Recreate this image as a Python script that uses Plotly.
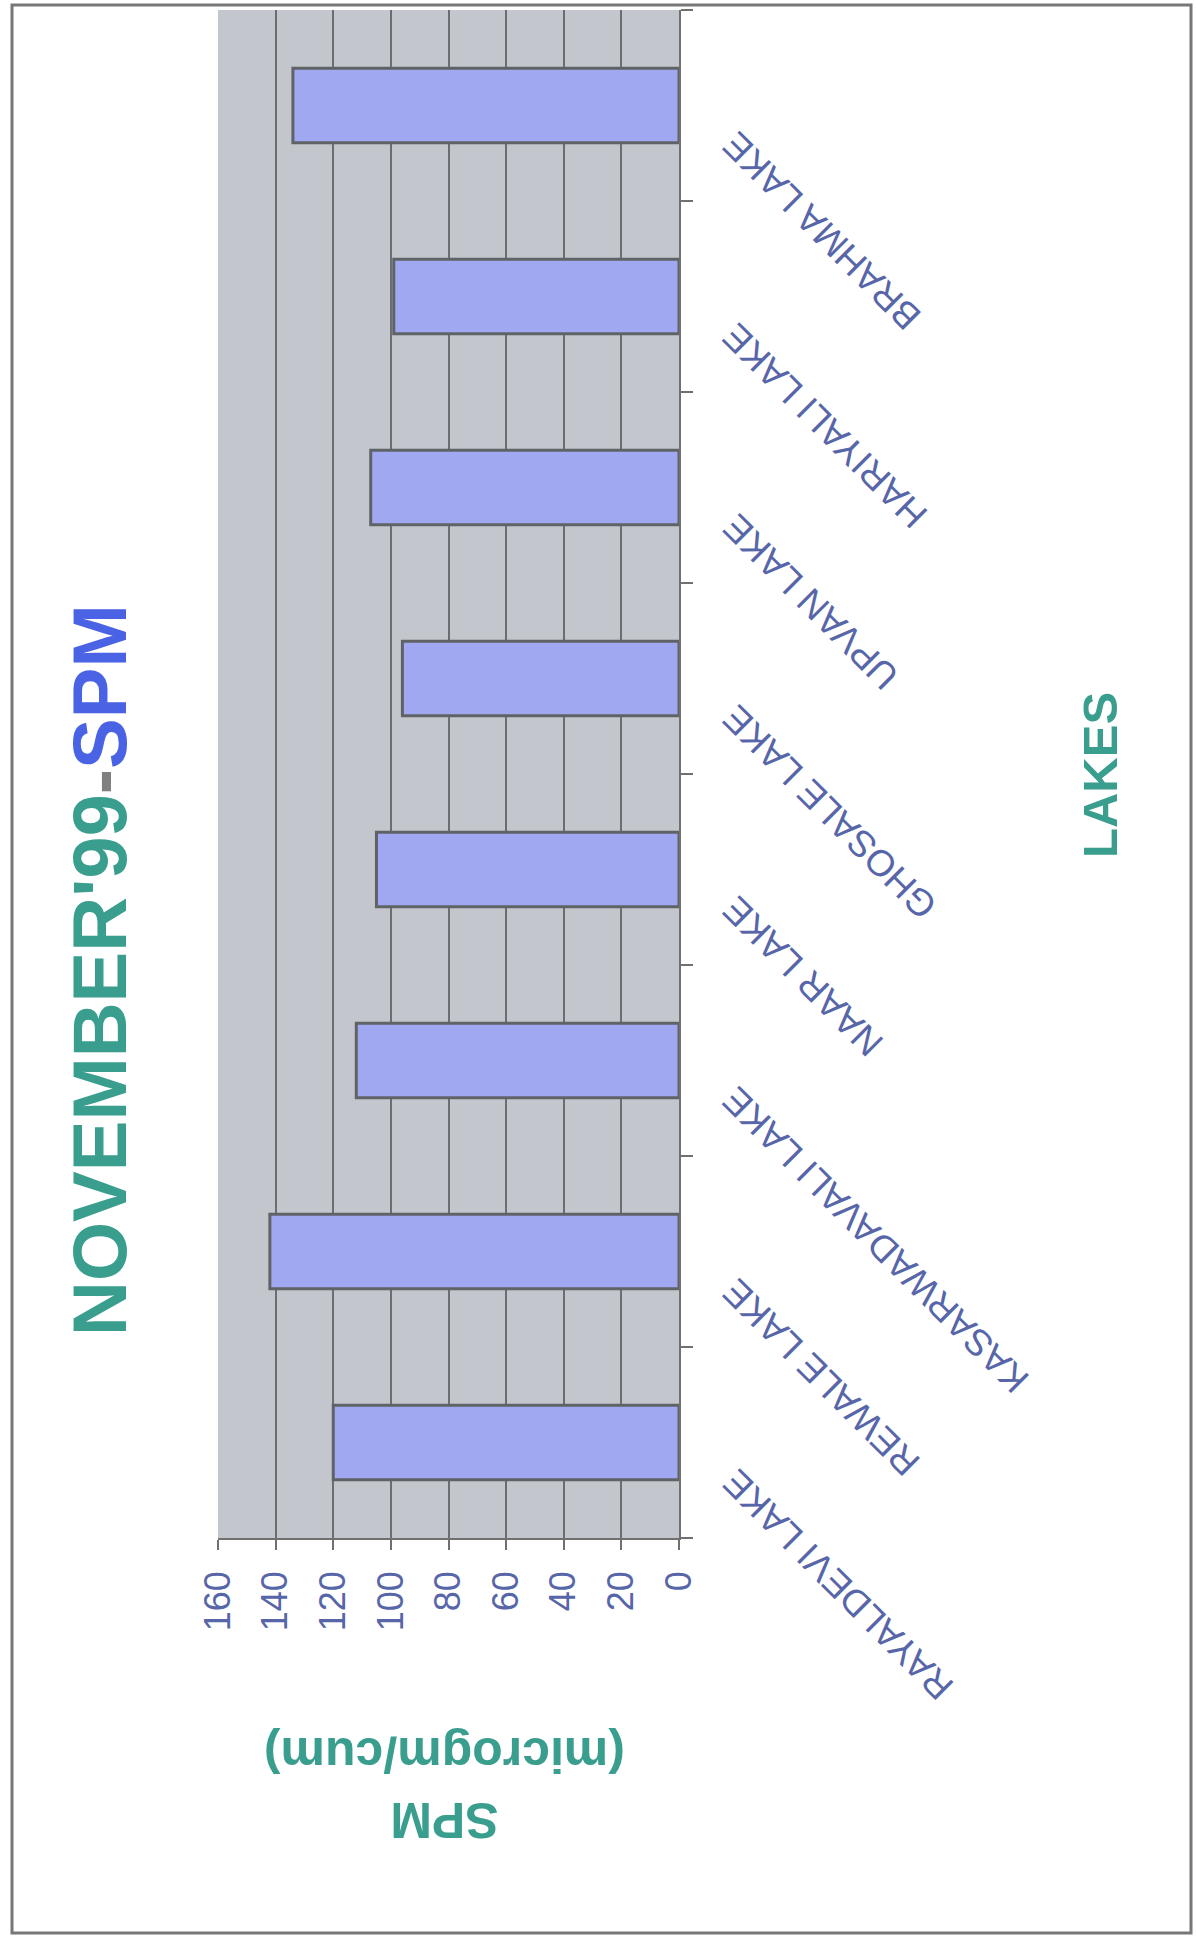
import plotly.graph_objects as go

lakes = ["RAYALDEVI LAKE", "REWALE LAKE", "KASARWADAVALI LAKE", "NAAR LAKE",
         "GHOSALE LAKE", "UPVAN LAKE", "HARIYALI LAKE", "BRAHMA LAKE"]
spm = [120, 142, 112, 105, 96, 107, 99, 134]
value_ticks = [0, 20, 40, 60, 80, 100, 120, 140, 160]

W, H = 1196, 1937
PL, PR, PT, PB = 218, 679, 10, 1538
pw, ph = PR - PL, PB - PT

def px(x):
    return (x - PL) / pw

def py(y):
    return (PB - y) / ph

LABEL = "#5766A8"
TEAL = "#3A9E8E"
GRID = "#6B6E70"

fig = go.Figure()
fig.add_trace(go.Bar(
    y=lakes, x=spm, orientation="h",
    marker=dict(color="#A0A8F2", line=dict(color="#5F6366", width=3)),
    showlegend=False,
))

fig.update_layout(
    width=W, height=H,
    margin=dict(l=PL, r=W - PR, t=PT, b=H - PB, pad=0, autoexpand=False),
    paper_bgcolor="white",
    plot_bgcolor="#C3C7CD",
    bargap=0.61,
    font=dict(family="Liberation Sans, Arial, sans-serif", color=LABEL),
    xaxis=dict(
        range=[160, 0], tickvals=value_ticks,
        showgrid=True, gridcolor=GRID, gridwidth=1.5,
        zeroline=False, automargin=False,
        showline=True, linecolor="#707070", linewidth=1.5,
        ticks="outside", ticklen=10, tickcolor="#707070", tickwidth=1.5,
        tickangle=-90, tickfont=dict(size=36, color=LABEL),
        ticklabelstandoff=7,
    ),
    yaxis=dict(
        side="right", range=[-0.5, 7.5],
        showgrid=False, zeroline=False, automargin=False,
        showline=True, linecolor="#707070", linewidth=1.5,
        ticks="outside", ticklen=12, tickcolor="#707070", tickwidth=1.5,
        tickson="boundaries", showticklabels=False,
    ),
)

# category labels, rotated like the scanned page
for i, name in enumerate(lakes):
    fig.add_annotation(
        xref="paper", yref="y", x=px(712), y=i, yshift=-16,
        text=name, textangle=-135, showarrow=False,
        font=dict(size=37, color=LABEL),
        xanchor="left", yanchor="top",
    )

# page frame
fig.add_shape(type="rect", xref="paper", yref="paper",
              x0=px(12), x1=px(1191), y0=py(1933), y1=py(5),
              line=dict(color="#777777", width=3), fillcolor="rgba(0,0,0,0)", layer="above")

fig.add_annotation(
    xref="paper", yref="paper", x=px(99), y=py(970),
    text="<b><span style='color:#3A9E8E'>NOVEMBER'99</span><span style='color:#808080'>-</span><span style='color:#4A62E4'>SPM</span></b>",
    textangle=-90, showarrow=False, font=dict(size=76),
    xanchor="center", yanchor="middle",
)
fig.add_annotation(
    xref="paper", yref="paper", x=px(1100), y=py(775),
    text="<b>LAKES</b>", textangle=-90, showarrow=False,
    font=dict(size=49, color=TEAL), xanchor="center", yanchor="middle",
)
fig.add_annotation(
    xref="paper", yref="paper", x=px(445), y=py(1788),
    text="<b>SPM<br>(microgm/cum)</b>", textangle=180, showarrow=False,
    font=dict(size=50, color=TEAL), xanchor="center", yanchor="middle",
)

fig.write_html("out.html")
